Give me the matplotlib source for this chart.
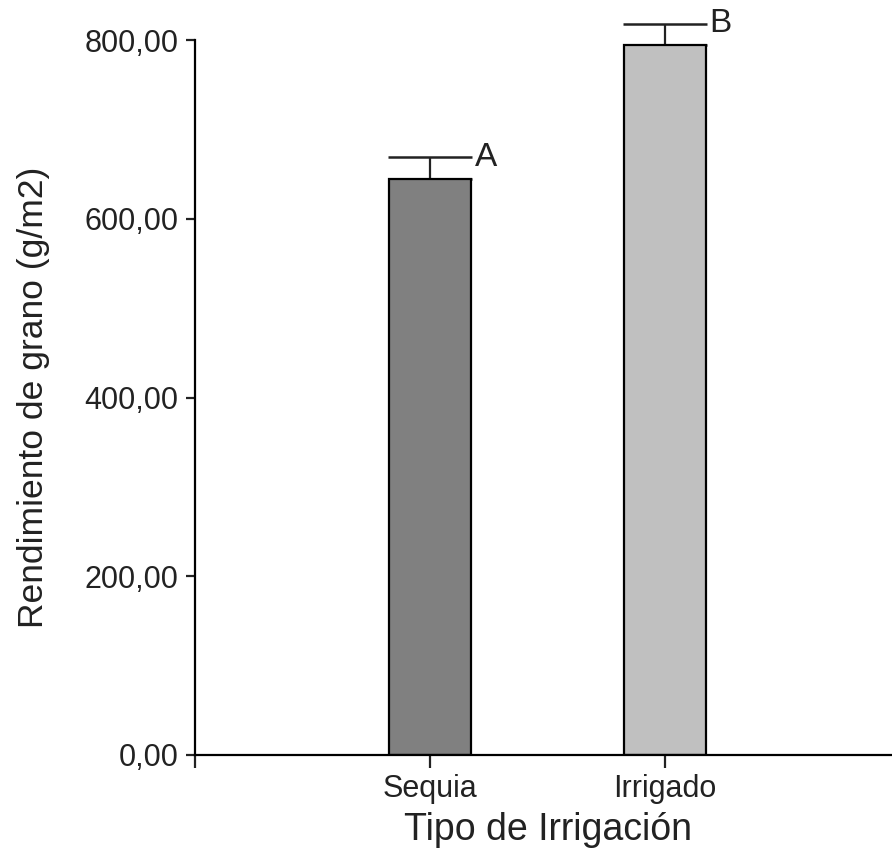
import matplotlib.pyplot as plt

# Datos
tipos = ['Sequia', 'Irrigado']
rendimiento = [645.0, 794.0]
error = [24.0, 24.0]
letras = ['A', 'B']
colores = ['#808080', '#c0c0c0']

plt.rcParams['font.family'] = ['Liberation Sans', 'DejaVu Sans']

fig = plt.figure(figsize=(8.92, 8.65), dpi=100)
ax = fig.add_axes([195 / 892, 110 / 865, 705 / 892, 715 / 865])

x = [1, 2]
ax.bar(x, rendimiento, width=0.345, color=colores, edgecolor='black', linewidth=1.6, zorder=2)
eb = ax.errorbar(x, rendimiento, yerr=[[0, 0], error], fmt='none', ecolor='#222222',
                 elinewidth=1.6, capsize=30, capthick=1.8, zorder=1)
for art in eb.lines[1] + eb.lines[2]:
    art.set_clip_on(False)
for xi, v, e, l in zip(x, rendimiento, error, letras):
    ax.text(xi + 0.19, v + e, l, fontsize=24, va='center', ha='left', color='#222222',
            clip_on=False)

ax.set_xlim(0, 3)
ax.set_ylim(0, 800)
ax.set_yticks([0, 200, 400, 600, 800])
ax.set_yticklabels(['0,00', '200,00', '400,00', '600,00', '800,00'], fontsize=22)
ax.set_xticks([0, 1, 2])
ax.set_xticklabels(['', 'Sequia', 'Irrigado'], fontsize=22,
                   family=['Liberation Sans Narrow', 'Liberation Sans'])

for s in ['top', 'right']:
    ax.spines[s].set_visible(False)
for s in ['left', 'bottom']:
    ax.spines[s].set_linewidth(1.6)
ax.tick_params(axis='y', length=6.5, width=1.6, pad=5.5, colors='#222222')
ax.tick_params(axis='x', length=9.5, width=1.6, pad=4, colors='#222222')

ax.set_ylabel('Rendimiento de grano (g/m2)', fontsize=25.5, color='#222222', labelpad=25)
ax.set_xlabel('Tipo de Irrigación', fontsize=27, color='#222222', labelpad=6)

plt.savefig('out.png', dpi=100)
